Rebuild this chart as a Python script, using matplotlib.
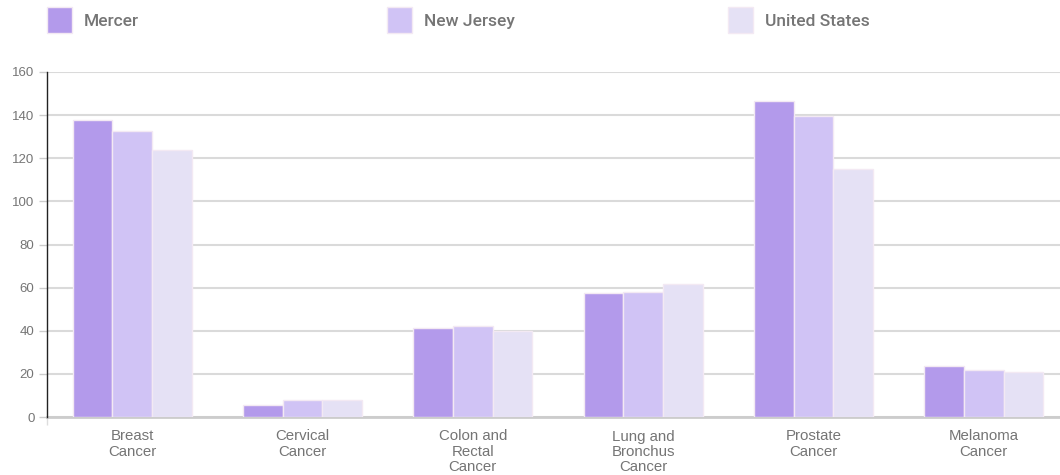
import numpy as np
import matplotlib
matplotlib.use("Agg")
import matplotlib.pyplot as plt
from matplotlib.patches import Rectangle

plt.rcParams['font.family'] = ['Liberation Sans', 'DejaVu Sans']

# data
categories = ["Breast\nCancer", "Cervical\nCancer", "Colon and\nRectal\nCancer",
              "Lung and\nBronchus\nCancer", "Prostate\nCancer", "Melanoma\nCancer"]
series_names = ["Mercer", "New Jersey", "United States"]
mercer = [137.7, 5.6, 41.5, 57.7, 146.6, 23.7]
new_jersey = [132.6, 7.9, 42.4, 58.0, 139.7, 21.8]
united_states = [124.0, 7.9, 39.9, 61.5, 115.2, 20.9]
y_ticks = [0, 20, 40, 60, 80, 100, 120, 140, 160]

colors = ["#b39aeb", "#d0c3f5", "#e5e1f5"]
grey_text = "#757575"

fig = plt.figure(figsize=(10.6, 4.75), dpi=100)
ax = fig.add_axes([47 / 1060, 1 - 417 / 475, 1022 / 1060, 345 / 475])

x = np.arange(len(categories))
w = 0.233
for i, vals in enumerate([mercer, new_jersey, united_states]):
    ax.bar(x + (i - 1) * w, vals, w, color=colors[i], edgecolor="#f3e9f3",
           linewidth=1, zorder=3)

ax.set_xlim(-0.5, len(categories) - 0.5)
ax.set_ylim(0, 160)
ax.set_yticks(y_ticks)
ax.set_xticks(x)
ax.set_xticklabels(categories, fontsize=10.8, color=grey_text, linespacing=1.12)
ax.tick_params(axis='x', length=0, pad=9)
ax.tick_params(axis='y', length=6, width=1, color="#cccccc", labelsize=9.5,
               labelcolor=grey_text, pad=3)
ax.set_xticks([-0.5], minor=True)
ax.tick_params(axis='x', which='minor', length=6, width=1, color="#dddddd")

ax.grid(axis='y', color="#dadada", linewidth=1.5, zorder=0)
for s in ["top", "right"]:
    ax.spines[s].set_visible(False)
ax.spines["bottom"].set_color("#cccccc")
ax.spines["bottom"].set_linewidth(2)
ax.spines["left"].set_color("#222222")
ax.spines["left"].set_linewidth(1)
ax.spines["left"].set_zorder(4)

# legend row across the top
legend_x = [47, 387, 728]
for i, name in enumerate(series_names):
    fig.patches.append(Rectangle((legend_x[i] / 1060, 1 - 33 / 475), 25 / 1060, 26 / 475,
                                 transform=fig.transFigure, facecolor=colors[i],
                                 edgecolor="#f3e9f3", linewidth=1))
    fig.text((legend_x[i] + 37) / 1060, 1 - 21.5 / 475, name, fontsize=12.5,
             color=grey_text, family=["Roboto", "DejaVu Sans"], fontweight=500,
             va="center", ha="left")

plt.savefig("out.png", dpi=100)
